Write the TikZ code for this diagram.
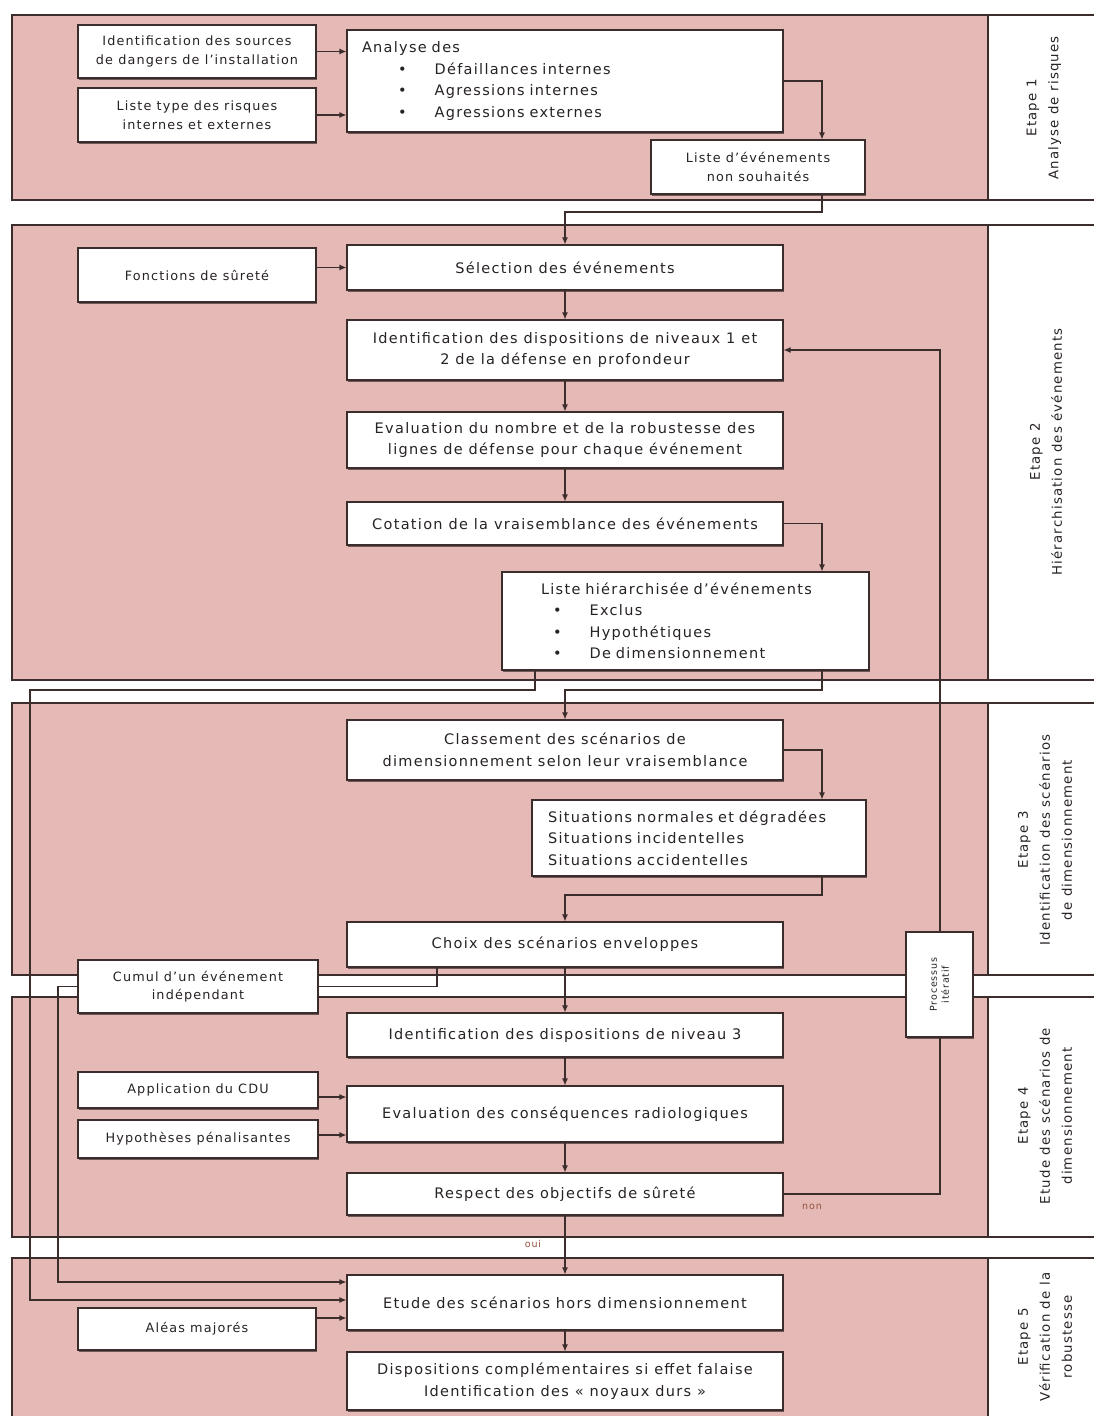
\documentclass[tikz,border=0pt]{standalone}
\usepackage{fontspec}
\setmainfont{DejaVu Sans}[LetterSpace=9]
\usetikzlibrary{arrows.meta,shadows,calc}
\definecolor{bandpink}{RGB}{229,186,182}
\definecolor{lc}{RGB}{60,45,45}
\definecolor{tc}{RGB}{40,35,35}
\definecolor{noncol}{RGB}{150,80,60}
\newcommand{\fmainx}{\fontsize{14.5}{21.5}\selectfont}
\newcommand{\fsmallx}{\fontsize{12.8}{18.5}\selectfont}
\newcommand{\flabx}{\fontsize{13.3}{22}\selectfont}
\newcommand{\ftinyx}{\fontsize{9.5}{12}\selectfont}
\pgfdeclarelayer{bg}
\pgfdeclarelayer{lines}
\pgfsetlayers{bg,lines,main}
\tikzset{
  box/.style={draw=lc, line width=1.1pt, fill=white, align=center, inner sep=3pt,
    font=\fmainx, text=tc,
    drop shadow={shadow xshift=1.2pt, shadow yshift=-1.8pt, fill=lc, opacity=0.7}},
  sbox/.style={box, font=\fsmallx},
  conn/.style={draw=lc, line width=1.1pt},
  arr/.style={conn, -{Latex[length=7pt,width=6pt]}},
  bandline/.style={draw=lc, line width=1.3pt},
  steplab/.style={rotate=90, align=center, font=\flabx, text=tc},
  small/.style={font=\ftinyx, text=noncol},
}
\begin{document}
\begin{tikzpicture}[x=1pt,y=-1pt]
\useasboundingbox (0,0) rectangle (1093,1416);
% ---------- bands ----------
\begin{pgfonlayer}{bg}
  \fill[white] (0,0) rectangle (1093,1416);
  \foreach \ya/\yb in {15/200,225/680,703/975,997/1237,1258/1425}{
    \fill[bandpink] (12,\ya) rectangle (988,\yb);
    \draw[bandline] (12,\ya) rectangle (1100,\yb);
    \draw[bandline] (988,\ya) -- (988,\yb);
  }
\end{pgfonlayer}
% ---------- step labels ----------
\node[steplab] (s1) at (1044,108) {Etape 1\\Analyse de risques};
\node[steplab] (s2) at (1046,452) {Etape 2\\Hiérarchisation des événements};
\node[steplab] (s3) at (1045,840) {Etape 3\\Identification des scénarios\\de dimensionnement};
\node[steplab] (s4) at (1045,1116) {Etape 4\\Etude des scénarios de\\dimensionnement};
\node[steplab] (s5) at (1045,1337) {Etape 5\\Vérification de la\\robustesse};
% ---------- band 1 ----------
\node[sbox, minimum width=238pt, minimum height=53pt] (A1) at (197,51.5)
  {Identification des sources\\de dangers de l'installation};
\node[sbox, minimum width=238pt, minimum height=54pt] (A2) at (197,115)
  {Liste type des risques\\internes et externes};
\node[box, minimum width=436pt, minimum height=102pt, text width=406pt, align=left] (A3) at (565,81)
  {Analyse des\\
   \hspace*{36pt}\textbullet\hspace*{28pt}Défaillances internes\\
   \hspace*{36pt}\textbullet\hspace*{28pt}Agressions internes\\
   \hspace*{36pt}\textbullet\hspace*{28pt}Agressions externes};
\node[sbox, minimum width=214pt, minimum height=54pt] (A4) at (758,167)
  {Liste d'événements\\non souhaités};
% ---------- band 2 ----------
\node[sbox, minimum width=238pt, minimum height=54pt] (B0) at (197,275) {Fonctions de sûreté};
\node[box, minimum width=436pt, minimum height=45pt] (B1) at (565,267.5) {Sélection des événements};
\node[box, minimum width=436pt, minimum height=60pt] (B2) at (565,350)
  {Identification des dispositions de niveaux 1 et\\2 de la défense en profondeur};
\node[box, minimum width=436pt, minimum height=56pt] (B3) at (565,440)
  {Evaluation du nombre et de la robustesse des\\lignes de défense pour chaque événement};
\node[box, minimum width=436pt, minimum height=43pt] (B4) at (565,523.5)
  {Cotation de la vraisemblance des événements};
\node[box, minimum width=367pt, minimum height=98pt, text width=289pt, align=left] (B5) at (685.5,621)
  {Liste hiérarchisée d'événements\\
   \hspace*{12pt}\textbullet\hspace*{28pt}Exclus\\
   \hspace*{12pt}\textbullet\hspace*{28pt}Hypothétiques\\
   \hspace*{12pt}\textbullet\hspace*{28pt}De dimensionnement};
% ---------- band 3 ----------
\node[box, minimum width=436pt, minimum height=60pt] (C1) at (565,750)
  {Classement des scénarios de\\dimensionnement selon leur vraisemblance};
\node[box, minimum width=334pt, minimum height=76pt, text width=302pt, align=left] (C2) at (699,838)
  {Situations normales et dégradées\\Situations incidentelles\\Situations accidentelles};
\node[box, minimum width=436pt, minimum height=45pt] (C3) at (565,944.5) {Choix des scénarios enveloppes};
\node[sbox, minimum width=240pt, minimum height=53pt] (Cu) at (198,986.5)
  {Cumul d'un événement\\indépendant};
\node[box, font=\ftinyx, rotate=90, minimum width=105pt, minimum height=67pt] (proc) at (939.5,984.5)
  {Processus\\itératif};
% ---------- band 4 ----------
\node[box, minimum width=436pt, minimum height=44pt] (D1) at (565,1035)
  {Identification des dispositions de niveau 3};
\node[sbox, minimum width=240pt, minimum height=36pt] (D0a) at (198,1090) {Application du CDU};
\node[sbox, minimum width=240pt, minimum height=38pt] (D0b) at (198,1139) {Hypothèses pénalisantes};
\node[box, minimum width=436pt, minimum height=56pt] (D2) at (565,1114)
  {Evaluation des conséquences radiologiques};
\node[box, minimum width=436pt, minimum height=42pt] (D3) at (565,1194)
  {Respect des objectifs de sûreté};
\node[small] (non) at (812,1207) {non};
\node[small] (oui) at (533,1244) {oui};
% ---------- band 5 ----------
\node[sbox, minimum width=238pt, minimum height=42pt] (E0) at (197,1329) {Aléas majorés};
\node[box, minimum width=436pt, minimum height=55pt] (E1) at (565,1302.5)
  {Etude des scénarios hors dimensionnement};
\node[box, minimum width=436pt, minimum height=58pt] (E2) at (565,1381)
  {Dispositions complémentaires si effet falaise\\Identification des « noyaux durs »};
% ---------- helper coordinates ----------
\coordinate (xR) at (822,0);
\coordinate (xL) at (30,0);
\coordinate (xL2) at (58,0);
\coordinate (xF) at (940,0);
\coordinate (xC) at (437,0);
\coordinate (xB) at (535,0);
\coordinate (y1) at (0,212);
\coordinate (y2) at (0,690);
\coordinate (y3) at (0,895);
\coordinate (yA) at (0,1097);
\coordinate (yB) at (0,1135);
\coordinate (yE1) at (0,1282);
\coordinate (yE2) at (0,1300);
\coordinate (yE3) at (0,1318);
% ---------- connectors ----------
\begin{pgfonlayer}{lines}
\draw[arr] (A1.east) -- (A1.east -| A3.west);
\draw[arr] (A2.east) -- (A2.east -| A3.west);
\draw[arr] (A3.east) -| (A4.north -| xR);
\draw[arr] (A4.south -| xR) |- (y1 -| B1.north) -- (B1.north);
\draw[arr] (B1.west -| B0.east) -- (B1.west);
\draw[arr] (B1.south) -- (B2.north);
\draw[arr] (B2.south) -- (B3.north);
\draw[arr] (B3.south) -- (B4.north);
\draw[arr] (B4.east) -| (B5.north -| xR);
\draw[arr] (B5.south -| xR) |- (y2 -| C1.north) -- (C1.north);
\draw[arr] (B5.south -| xB) |- (y2 -| xL) |- (E1.west |- yE2);
\draw[arr] (C1.east) -| (C2.north -| xR);
\draw[arr] (C2.south -| xR) |- (y3 -| C3.north) -- (C3.north);
\draw[arr] (C3.south) -- (D1.north);
\draw[conn] (C3.south -| xC) |- (Cu.east);
\draw[arr] (Cu.west) -| (xL2 |- yE1) -- (E1.west |- yE1);
\draw[arr] (D1.south) -- (D2.north);
\draw[arr] (D0a.east |- yA) -- (D2.west |- yA);
\draw[arr] (D0b.east |- yB) -- (D2.west |- yB);
\draw[arr] (D2.south) -- (D3.north);
\draw[arr] (D3.south) -- (E1.north);
\draw[arr] (D3.east) -| (xF |- B2.east) -- (B2.east);
\draw[arr] (E0.east |- yE3) -- (E1.west |- yE3);
\draw[arr] (E1.south) -- (E2.north);
\end{pgfonlayer}
\end{tikzpicture}
\end{document}
